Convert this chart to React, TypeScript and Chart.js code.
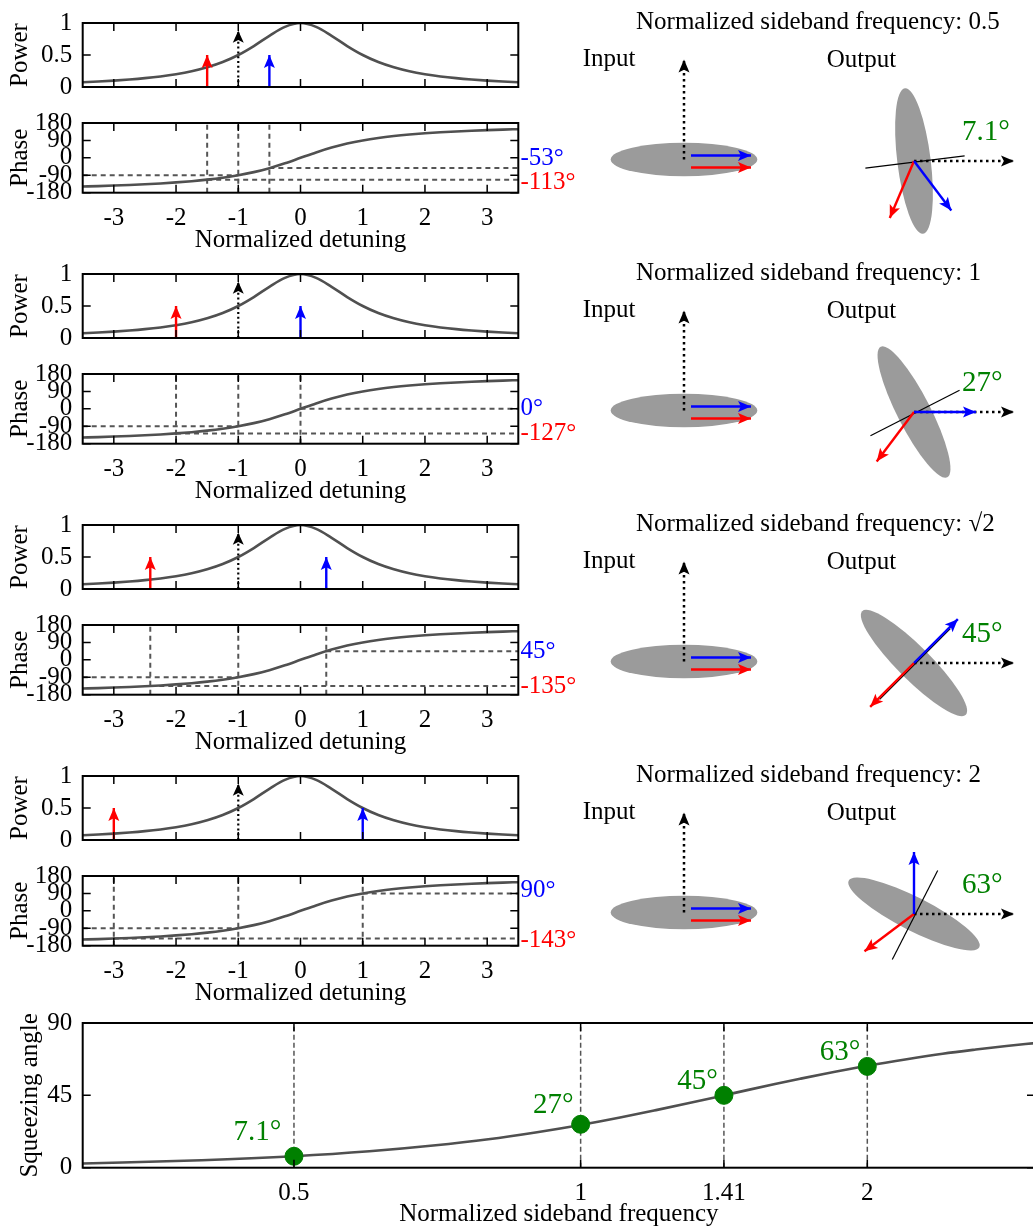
import React, { useEffect, useRef } from "react";
import { Chart, registerables } from "chart.js";

Chart.register(...registerables);

const FONT = "'Liberation Serif', 'Times New Roman', Times, serif";
const FS = 25;
Chart.defaults.font.family = FONT;
Chart.defaults.font.size = FS;
Chart.defaults.color = "#000";

// ---------------- data ----------------
const sidebandFreqs = [0.5, 1, 1.414, 2];
const sidebandFreqTitles = ["0.5", "1", "√2", "2"];
const carrierDetuning = -1;
const lowerSidebandDetuning = [-1.5, -2, -2.414, -3];
const upperSidebandDetuning = [-0.5, 0, 0.414, 1];
const carrierPhase = -90;
const lowerSidebandPhase = [-113, -127, -135, -143];
const upperSidebandPhase = [-53, 0, 45, 90];
const squeezingAngles = [7.1, 27, 45, 63];
const squeezingAngleLabels = ["7.1°", "27°", "45°", "63°"];
const carrierArrowPower = 0.88;
const sidebandArrowPower = 0.5;
const inputCarrierAngle = 90;
const inputSidebandAngle = 0;

const detuningGrid = [-3.5, -3.25, -3, -2.75, -2.5, -2.25, -2, -1.75, -1.5, -1.25, -1, -0.75, -0.5, -0.25, 0, 0.25, 0.5, 0.75, 1, 1.25, 1.5, 1.75, 2, 2.25, 2.5, 2.75, 3, 3.25, 3.5];
const powerCurve = [0.075, 0.086, 0.1, 0.117, 0.138, 0.165, 0.2, 0.246, 0.308, 0.39, 0.5, 0.64, 0.8, 0.94, 1, 0.94, 0.8, 0.64, 0.5, 0.39, 0.308, 0.246, 0.2, 0.165, 0.138, 0.117, 0.1, 0.086, 0.075];
const phaseCurve = [-148.1, -145.9, -143.1, -140, -136.4, -132.1, -126.9, -120.5, -112.6, -102.7, -90, -73.7, -53.1, -28.1, 0, 28.1, 53.1, 73.7, 90, 102.7, 112.6, 120.5, 126.9, 132.1, 136.4, 140, 143.1, 145.9, 148.1];
const detuningTicks = [-3, -2, -1, 0, 1, 2, 3];
const detuningTickLabels = ["-3", "-2", "-1", "0", "1", "2", "3"];
const powerTicks = [0, 0.5, 1];
const powerTickLabels = ["0", "0.5", "1"];
const phaseTicks = [-180, -90, 0, 90, 180];
const phaseTickLabels = ["-180", "-90", "0", "90", "180"];

const freqGrid = [0.3, 0.4, 0.5, 0.6, 0.7, 0.8, 0.9, 1, 1.1, 1.2, 1.3, 1.414, 1.5, 1.6, 1.7, 1.8, 2, 2.2, 2.4, 2.6, 2.8, 3];
const squeezeCurve = [2.6, 4.6, 7.1, 10.2, 13.8, 17.7, 22.1, 26.6, 31.2, 35.8, 40.2, 45, 48.4, 52, 55.3, 58.3, 63.4, 67.5, 70.9, 73.5, 75.7, 77.5];
const freqTicks = [0.5, 1, 1.414, 2];
const freqTickLabels = ["0.5", "1", "1.41", "2"];
const angleTicks = [0, 45, 90];
const angleTickLabels = ["0", "45", "90"];

// ---------------- layout / style ----------------
const ROW_STEP = 251;
const AXIS_W = 82.7;
const CURVE = "#505050";
const DASH = "#555555";
const RED = "#ff0000";
const BLUE = "#0000ff";
const GREEN = "#008000";
const ELLIPSE = "#9b9b9b";
const PHASE_LABEL_NUDGE = [[-10, 2.4], [0, 0], [0, 0], [-3, 2]];
const SQUEEZE_LABEL_NUDGE = [[-12.5, -16], [-7, -11.5], [-6, -6], [-7, -6]];
const PH = { inC: { x: 124, y: 91.5 }, outC: { x: 354, y: 90 }, a: 73.3, b: 16.7, carrierLen: 100, sideLen: 60, outSideLen: 62, lineHalf: 50 };
const HEAD = { len: 13, half: 5.5 };

// ---------------- plugins ----------------
function makeFramePlugin(xt: number[], yt: number[], lw = 2) {
  return {
    id: "frame",
    afterDatasetsDraw(chart: any) {
      const { ctx, chartArea: a } = chart;
      const xs = chart.scales.x, ys = chart.scales.y;
      const L = 8;
      ctx.save();
      ctx.strokeStyle = "#000";
      ctx.lineWidth = 1.5;
      ctx.beginPath();
      for (const v of xt) {
        const p = xs.getPixelForValue(v);
        ctx.moveTo(p, a.top); ctx.lineTo(p, a.top + L);
        ctx.moveTo(p, a.bottom); ctx.lineTo(p, a.bottom - L);
      }
      for (const v of yt) {
        const p = ys.getPixelForValue(v);
        ctx.moveTo(a.left, p); ctx.lineTo(a.left + L, p);
        ctx.moveTo(a.right, p); ctx.lineTo(a.right - L, p);
      }
      ctx.stroke();
      ctx.lineWidth = lw;
      ctx.strokeRect(a.left, a.top, a.right - a.left, a.bottom - a.top);
      ctx.restore();
    },
  };
}

const arrowPlugin = {
  id: "arrowHeads",
  afterDatasetsDraw(chart: any) {
    const ctx = chart.ctx;
    chart.data.datasets.forEach((ds: any, i: number) => {
      if (!ds.arrowHead) return;
      const pts = chart.getDatasetMeta(i).data;
      if (pts.length < 2) return;
      const p1 = pts[pts.length - 2], p2 = pts[pts.length - 1];
      const ang = Math.atan2(p2.y - p1.y, p2.x - p1.x);
      const { len, half } = ds.arrowHead;
      ctx.save();
      ctx.translate(p2.x, p2.y);
      ctx.rotate(ang);
      ctx.fillStyle = ds.arrowColor || ds.borderColor;
      ctx.beginPath();
      ctx.moveTo(0, 0);
      ctx.lineTo(-len, -half);
      ctx.lineTo(-len * 0.78, 0);
      ctx.lineTo(-len, half);
      ctx.closePath();
      ctx.fill();
      ctx.restore();
    });
  },
};

type TextItem = { text: string; x?: number; y?: number; xv?: number; yv?: number; dx?: number; dy?: number; size?: number; color?: string; align?: string; baseline?: string };
function makeTextPlugin(items: TextItem[]) {
  return {
    id: "texts",
    afterDatasetsDraw(chart: any) {
      const ctx = chart.ctx;
      ctx.save();
      for (const it of items) {
        let x = it.xv !== undefined ? chart.scales.x.getPixelForValue(it.xv) : (it.x as number);
        let y = it.yv !== undefined ? chart.scales.y.getPixelForValue(it.yv) : (it.y as number);
        x += it.dx || 0;
        y += it.dy || 0;
        ctx.font = `${it.size || FS}px ${FONT}`;
        ctx.fillStyle = it.color || "#000";
        ctx.textAlign = (it.align || "left") as CanvasTextAlign;
        ctx.textBaseline = (it.baseline || "alphabetic") as CanvasTextBaseline;
        ctx.fillText(it.text, x, y);
      }
      ctx.restore();
    },
  };
}

type Ell = { cx: number; cy: number; a: number; b: number; angle: number };
function makeEllipsePlugin(list: Ell[]) {
  return {
    id: "ellipses",
    beforeDatasetsDraw(chart: any) {
      const ctx = chart.ctx;
      const xs = chart.scales.x, ys = chart.scales.y;
      ctx.save();
      ctx.fillStyle = ELLIPSE;
      for (const e of list) {
        const cx = xs.getPixelForValue(e.cx), cy = ys.getPixelForValue(e.cy);
        const ra = Math.abs(xs.getPixelForValue(e.cx + e.a) - cx);
        const rb = Math.abs(ys.getPixelForValue(e.cy + e.b) - cy);
        ctx.beginPath();
        ctx.ellipse(cx, cy, ra, rb, (-e.angle * Math.PI) / 180, 0, Math.PI * 2);
        ctx.fill();
      }
      ctx.restore();
    },
  };
}

// ---------------- helpers ----------------
const fixedTicks = (vals: number[]) => (s: any) => { s.ticks = vals.map((v) => ({ value: v })); };

function yAxis(min: number, max: number, ticks: number[], labels: string[], title: string, padTop: number) {
  return {
    type: "linear", min, max,
    grid: { display: false, drawTicks: false },
    border: { display: false },
    afterBuildTicks: fixedTicks(ticks),
    afterFit: (s: any) => { s.width = AXIS_W; },
    ticks: { autoSkip: false, padding: 10.5, font: { size: FS, lineHeight: 1 }, color: "#000", callback: (_v: any, i: number) => labels[i] },
    title: { display: true, text: title, font: { size: FS, lineHeight: 1 }, color: "#000", padding: { top: padTop, bottom: 0 } },
  };
}

function xAxis(type: string, min: number, max: number, ticks: number[], labels: string[], title: string, tickPad: number, titlePad: number) {
  return {
    type, min, max,
    grid: { display: false, drawTicks: false },
    border: { display: false },
    afterBuildTicks: fixedTicks(ticks),
    afterFit: (s: any) => { s.height = 62.3; },
    ticks: { autoSkip: false, maxRotation: 0, minRotation: 0, padding: tickPad, font: { size: FS, lineHeight: 1 }, color: "#000", callback: (_v: any, i: number) => labels[i] },
    title: { display: true, text: title, font: { size: FS, lineHeight: 1 }, color: "#000", padding: { top: 0, bottom: titlePad } },
  };
}

const baseOptions = (padding: any) => ({
  animation: false,
  responsive: false,
  devicePixelRatio: 1,
  events: [],
  layout: { padding },
  plugins: { legend: { display: false }, tooltip: { enabled: false }, title: { display: false } },
});

const seg = (pts: { x: number; y: number }[], color: string, width: number, extra: any = {}) => ({
  data: pts, showLine: true, borderColor: color, backgroundColor: color, borderWidth: width, pointRadius: 0, borderCapStyle: "butt", ...extra,
});

// ---------------- chart configs ----------------
function powerConfig(r: number): any {
  const xr = lowerSidebandDetuning[r], xb = upperSidebandDetuning[r];
  return {
    type: "scatter",
    data: {
      datasets: [
        seg(detuningGrid.map((x, i) => ({ x, y: powerCurve[i] })), CURVE, 2.6, { cubicInterpolationMode: "monotone", order: 5 }),
        seg([{ x: carrierDetuning, y: 0 }, { x: carrierDetuning, y: carrierArrowPower }], "#000", 2.2, { borderDash: [2, 2.8], arrowHead: { len: 12, half: 5.5 }, order: 3 }),
        seg([{ x: xr, y: 0 }, { x: xr, y: sidebandArrowPower }], RED, 2.4, { arrowHead: { len: 13, half: 5.5 }, order: 2 }),
        seg([{ x: xb, y: 0 }, { x: xb, y: sidebandArrowPower }], BLUE, 2.4, { arrowHead: { len: 13, half: 5.5 }, order: 1 }),
      ],
    },
    options: {
      ...baseOptions({ top: 21.7, right: 41.7, bottom: 15.7, left: 0 }),
      scales: {
        x: { type: "linear", min: -3.5, max: 3.5, display: false },
        y: yAxis(0, 1, powerTicks, powerTickLabels, "Power", 7.7),
      },
    },
    plugins: [makeFramePlugin(detuningTicks, powerTicks), arrowPlugin],
  };
}

function phaseConfig(r: number): any {
  const xr = lowerSidebandDetuning[r], xb = upperSidebandDetuning[r];
  const pr = lowerSidebandPhase[r], pb = upperSidebandPhase[r];
  const dashOpts = { borderDash: [5, 4], order: 2 };
  const [nb, nr] = PHASE_LABEL_NUDGE[r];
  return {
    type: "scatter",
    data: {
      datasets: [
        seg(detuningGrid.map((x, i) => ({ x, y: phaseCurve[i] })), CURVE, 2.6, { cubicInterpolationMode: "monotone", order: 1 }),
        seg([{ x: xr, y: -180 }, { x: xr, y: 180 }], DASH, 2, dashOpts),
        seg([{ x: carrierDetuning, y: -180 }, { x: carrierDetuning, y: 180 }], DASH, 2, dashOpts),
        seg([{ x: xb, y: -180 }, { x: xb, y: 180 }], DASH, 2, dashOpts),
        seg([{ x: -3.5, y: carrierPhase }, { x: carrierDetuning, y: carrierPhase }], DASH, 2, dashOpts),
        seg([{ x: xr, y: pr }, { x: 3.5, y: pr }], DASH, 2, dashOpts),
        seg([{ x: xb, y: pb }, { x: 3.5, y: pb }], DASH, 2, dashOpts),
      ],
    },
    options: {
      ...baseOptions({ top: 20.7, right: 66.7, bottom: 0, left: 0 }),
      scales: {
        x: xAxis("linear", -3.5, 3.5, detuningTicks, detuningTickLabels, "Normalized detuning", 12.8, 2.5),
        y: yAxis(-180, 180, phaseTicks, phaseTickLabels, "Phase", 7.7),
      },
    },
    plugins: [
      makeFramePlugin(detuningTicks, phaseTicks),
      makeTextPlugin([
        { text: `${pb}°`, x: 520.5, yv: pb, dy: nb, color: BLUE, baseline: "middle" },
        { text: `${pr}°`, x: 520.5, yv: pr, dy: nr, color: RED, baseline: "middle" },
      ]),
    ],
  };
}

const pol = (c: { x: number; y: number }, angDeg: number, len: number) => ({
  x: c.x + len * Math.cos((angDeg * Math.PI) / 180),
  y: c.y + len * Math.sin((angDeg * Math.PI) / 180),
});

function phasorConfig(r: number): any {
  const { inC, outC } = PH;
  const theta = squeezingAngles[r];
  const blueIn0 = { x: inC.x + 7, y: inC.y + 4 };
  const redIn0 = { x: inC.x + 7, y: inC.y - 8 };
  const lineC = { x: outC.x + 1, y: outC.y - 1 };
  return {
    type: "scatter",
    data: {
      datasets: [
        seg([inC, pol(inC, inputCarrierAngle, PH.carrierLen)], "#000", 2.5, { borderDash: [2.5, 3.5], arrowHead: HEAD }),
        seg([blueIn0, pol(blueIn0, inputSidebandAngle, PH.sideLen)], BLUE, 2.4, { arrowHead: HEAD }),
        seg([redIn0, pol(redIn0, inputSidebandAngle, PH.sideLen)], RED, 2.4, { arrowHead: HEAD }),
        seg([pol(lineC, theta, -PH.lineHalf), pol(lineC, theta, PH.lineHalf)], "#000", 1.2),
        seg([outC, pol(outC, inputCarrierAngle + carrierPhase, PH.carrierLen)], "#000", 2.5, { borderDash: [2.5, 3.5], arrowHead: HEAD }),
        seg([outC, pol(outC, inputSidebandAngle + lowerSidebandPhase[r], PH.outSideLen)], RED, 2.4, { arrowHead: HEAD }),
        seg([outC, pol(outC, inputSidebandAngle + upperSidebandPhase[r], PH.outSideLen)], BLUE, 2.4, { arrowHead: HEAD }),
      ].map((d, i, arr) => ({ ...d, order: arr.length - i })),
    },
    options: {
      ...baseOptions({ top: 0, right: 0, bottom: 0, left: 0 }),
      scales: {
        x: { type: "linear", min: 0, max: 473, display: false },
        y: { type: "linear", min: 0, max: 251, display: false },
      },
    },
    plugins: [
      makeEllipsePlugin([
        { cx: inC.x, cy: inC.y, a: PH.a, b: PH.b, angle: 0 },
        { cx: outC.x, cy: outC.y, a: PH.a, b: PH.b, angle: 90 + theta },
      ]),
      arrowPlugin,
      makeTextPlugin([
        { text: `Normalized sideband frequency: ${sidebandFreqTitles[r]}`, x: 76, y: 29.3 },
        { text: "Input", x: 22.7, y: 66 },
        { text: "Output", x: 266.7, y: 66.5 },
        { text: squeezingAngleLabels[r], x: 402, y: 140, size: 29, color: GREEN },
      ]),
    ],
  };
}

function squeezeConfig(): any {
  return {
    type: "scatter",
    data: {
      datasets: [
        { data: sidebandFreqs.map((x, i) => ({ x, y: squeezingAngles[i] })), showLine: false, pointRadius: 9, pointBackgroundColor: GREEN, pointBorderColor: GREEN, backgroundColor: GREEN, borderColor: GREEN, order: 0 },
        seg(freqGrid.map((x, i) => ({ x, y: squeezeCurve[i] })), CURVE, 2.6, { cubicInterpolationMode: "monotone", order: 1 }),
        ...sidebandFreqs.map((f) => seg([{ x: f, y: 0 }, { x: f, y: 90 }], DASH, 1.5, { borderDash: [5, 3], order: 2 })),
      ],
    },
    options: {
      ...baseOptions({ top: 22.7, right: 7.3, bottom: 0, left: 0 }),
      scales: {
        x: xAxis("logarithmic", 0.3, 3, freqTicks, freqTickLabels, "Normalized sideband frequency", 13.1, 3.5),
        y: yAxis(0, 90, angleTicks, angleTickLabels, "Squeezing angle", 17.5),
      },
    },
    plugins: [
      makeFramePlugin(freqTicks, angleTicks),
      makeTextPlugin(
        sidebandFreqs.map((f, i) => ({
          text: squeezingAngleLabels[i], xv: f, yv: squeezingAngles[i],
          dx: SQUEEZE_LABEL_NUDGE[i][0], dy: SQUEEZE_LABEL_NUDGE[i][1], size: 29, color: GREEN, align: "right",
        }))
      ),
    ],
  };
}

// ---------------- components ----------------
function ChartBox({ make, left, top, width, height }: { make: () => any; left: number; top: number; width: number; height: number }) {
  const ref = useRef<HTMLCanvasElement | null>(null);
  useEffect(() => {
    const c = ref.current;
    if (!c) return;
    const chart = new Chart(c, make());
    return () => chart.destroy();
  }, []);
  return (
    <canvas
      ref={ref}
      width={width}
      height={height}
      style={{ position: "absolute", left, top, width, height }}
    />
  );
}

export default function App() {
  useEffect(() => {
    document.body.style.margin = "0";
  }, []);
  const boxes: any[] = [];
  for (let r = 0; r < 4; r++) {
    const dy = r * ROW_STEP;
    boxes.push(<ChartBox key={"pw" + r} left={0} top={dy} width={560} height={110} make={() => powerConfig(r)} />);
    boxes.push(<ChartBox key={"ph" + r} left={0} top={dy + 100} width={585} height={155} make={() => phaseConfig(r)} />);
    boxes.push(<ChartBox key={"pz" + r} left={560} top={dy} width={473} height={251} make={() => phasorConfig(r)} />);
  }
  boxes.push(<ChartBox key="sq" left={0} top={1000} width={1045} height={230} make={squeezeConfig} />);
  return (
    <div style={{ position: "absolute", left: 0, top: 0, width: 1033, height: 1230, overflow: "hidden", background: "#fff" }}>
      {boxes}
    </div>
  );
}
